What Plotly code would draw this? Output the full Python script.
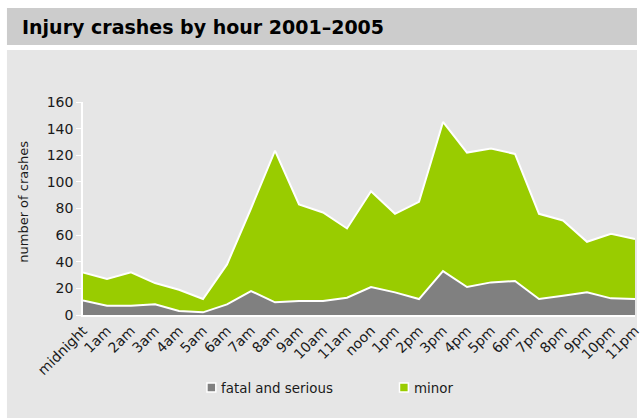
import plotly.graph_objects as go

# Injury crashes by hour of day, 2001-2005
hours = ["midnight", "1am", "2am", "3am", "4am", "5am", "6am", "7am", "8am",
         "9am", "10am", "11am", "noon", "1pm", "2pm", "3pm", "4pm", "5pm",
         "6pm", "7pm", "8pm", "9pm", "10pm", "11pm"]
fatal_serious = [11, 7, 7, 8, 3, 2, 8, 18, 9.5, 10.5, 10.5, 13, 21, 17, 12,
                 33, 21, 24.5, 25.5, 12, 14.5, 17, 12.5, 12]
minor = [21, 20, 25, 16, 16, 10, 30, 62, 114, 72.5, 66.5, 52, 72, 59, 73,
         112, 101, 100.5, 95.5, 64, 56.5, 38, 48.5, 45]
y_ticks = [0, 20, 40, 60, 80, 100, 120, 140, 160]

GREY = "#808080"
GREEN = "#99cc00"
PANEL = "#e6e6e6"
TITLE_BAR = "#cccccc"
FONT = "DejaVu Sans, Verdana, sans-serif"
TXT = "#1a1a1a"

W, H = 642, 418
L, R, T, B = 83, 0, 102, 103
PW, PH = W - L - R, H - T - B


def px_x(p):
    return (p - L) / PW


def px_y(p):
    return (H - B - p) / PH


x = list(range(len(hours)))

fig = go.Figure()
fig.add_trace(go.Scatter(
    x=x, y=fatal_serious, name="fatal and serious", stackgroup="one",
    mode="lines", line=dict(color="white", width=2), fillcolor=GREY,
    showlegend=False, hoverinfo="skip"))
fig.add_trace(go.Scatter(
    x=x, y=minor, name="minor", stackgroup="one",
    mode="lines", line=dict(color="white", width=2), fillcolor=GREEN,
    showlegend=False, hoverinfo="skip"))

shapes = [
    # light panel behind the chart
    dict(type="rect", xref="paper", yref="paper", layer="below",
         x0=px_x(6), x1=px_x(W + 2), y0=px_y(H + 2), y1=px_y(50),
         fillcolor=PANEL, line=dict(width=0)),
    # title bar
    dict(type="rect", xref="paper", yref="paper", layer="below",
         x0=px_x(6), x1=px_x(W + 2), y0=px_y(45), y1=px_y(8),
         fillcolor=TITLE_BAR, line=dict(width=0)),
]

annotations = [
    dict(text="<b>Injury crashes by hour 2001–2005</b>", xref="paper",
         yref="paper", x=px_x(19), y=px_y(27), xanchor="left",
         yanchor="middle", showarrow=False,
         font=dict(family=FONT, size=19, color="#000000")),
    dict(text="number of crashes", xref="paper", yref="paper",
         x=px_x(22), y=px_y(202), textangle=-90, xanchor="center",
         yanchor="middle", showarrow=False,
         font=dict(family=FONT, size=13, color=TXT)),
]

# legend keys: small squares with a white edge, label to the right
legend_items = [("fatal and serious", GREY, 213), ("minor", GREEN, 408)]
for label, color, cx in legend_items:
    shapes.append(dict(type="rect", xref="paper", yref="paper",
                       x0=px_x(cx - 4.5), x1=px_x(cx + 4.5),
                       y0=px_y(392), y1=px_y(383),
                       fillcolor=color, line=dict(color="white", width=1.5)))
    annotations.append(dict(text=label, xref="paper", yref="paper",
                            x=px_x(cx + 8), y=px_y(388), xanchor="left",
                            yanchor="middle", showarrow=False,
                            font=dict(family=FONT, size=13.4, color=TXT)))

fig.update_layout(
    width=W, height=H,
    margin=dict(l=L, r=R, t=T, b=B, pad=0),
    paper_bgcolor="white",
    plot_bgcolor="rgba(0,0,0,0)",
    showlegend=False,
    shapes=shapes,
    annotations=annotations,
    font=dict(family=FONT, size=13, color=TXT),
    xaxis=dict(range=[0, 23], tickvals=x, ticktext=hours, tickangle=-45,
               showgrid=False, zeroline=False, showline=True,
               linecolor="white", linewidth=2, ticks="",
               ticklabeloverflow="allow",
               tickfont=dict(family=FONT, size=14, color=TXT)),
    yaxis=dict(range=[0, 160], tickvals=y_ticks, showgrid=False,
               zeroline=False, showline=True, linecolor="white",
               linewidth=1.5, ticks="outside", tickcolor="white",
               ticklen=5, tickwidth=1,
               tickfont=dict(family=FONT, size=14, color=TXT)),
)

fig.write_html("out.html")
